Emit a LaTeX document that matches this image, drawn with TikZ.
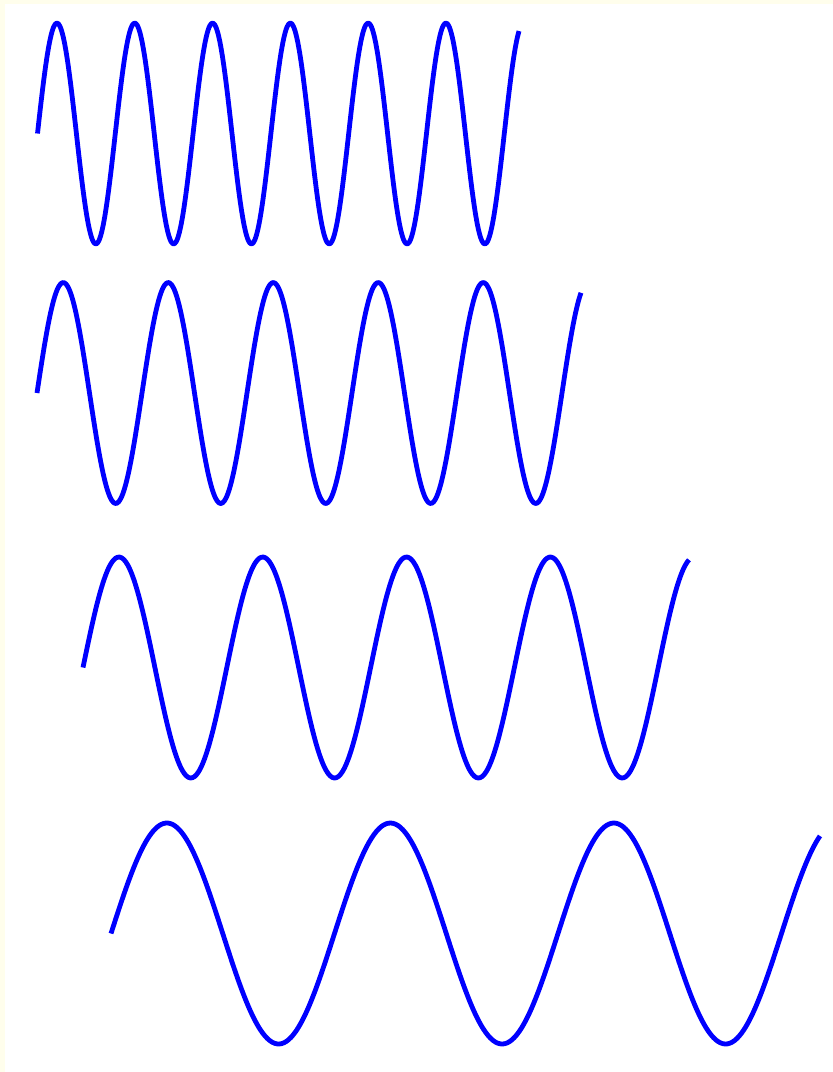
\documentclass[tikz,border=0pt]{standalone}
\usepackage[dvipsnames]{xcolor}
\usepackage{tikz}
\definecolor{ivoryedge}{RGB}{255,254,236}
\tikzset{wave/.style={draw=blue,line width=0.048cm,line join=round},
  sheet/.style={fill=white,draw=none}}
\begin{document}
\begin{tikzpicture}[x=0.01cm,y=-0.01cm]
\fill[ivoryedge] (0,0) rectangle (833,1072);
\fill[sheet] (5,4) rectangle (833,1072);
\useasboundingbox (0,0) rectangle (833,1072);
\draw[wave] plot[domain=37.5:519,samples=300,smooth] (\x,{133.5-110.5*sin((\x-37.5)/77.8*360)});
\draw[wave] plot[domain=37:581,samples=300,smooth] (\x,{393-110.5*sin((\x-37)/105*360)});
\draw[wave] plot[domain=83:689,samples=300,smooth] (\x,{667.5-110.5*sin((\x-83)/143.8*360)});
\draw[wave] plot[domain=111:820,samples=300,smooth] (\x,{933.5-110.5*sin((\x-111)/223.5*360)});
\end{tikzpicture}
\end{document}
